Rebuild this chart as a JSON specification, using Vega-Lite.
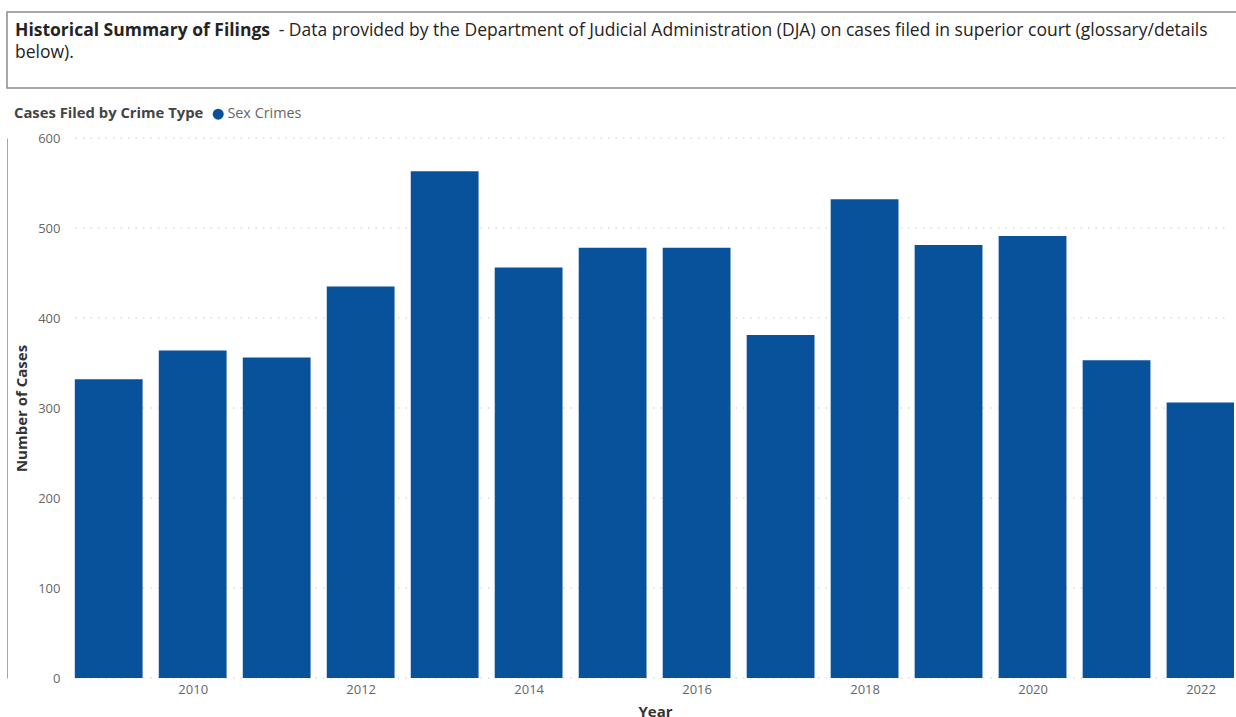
{
  "$schema": "https://vega.github.io/schema/vega-lite/v6.json",
  "background": "white",
  "padding": {"left": 6, "top": 11, "right": 0, "bottom": 0},
  "columns": 1,
  "align": "none",
  "spacing": 13,
  "resolve": {"legend": {"color": "independent"}, "scale": {"color": "independent"}},
  "config": {"font": "Open Sans", "view": {"stroke": null}},
  "concat": [
    {
      "width": 1230,
      "height": 76,
      "view": {"stroke": "#8C8C8C", "strokeWidth": 1.5},
      "data": {"values": []},
      "mark": {"type": "rule"},
      "encoding": {},
      "title": {
        "text": "Historical Summary of Filings",
        "subtitle": [
          "\u200d\u00a0\u00a0\u00a0\u00a0\u00a0\u00a0\u00a0\u00a0\u00a0\u00a0\u00a0\u00a0\u00a0\u00a0\u00a0\u00a0\u00a0\u00a0\u00a0\u00a0\u00a0\u00a0\u00a0\u00a0\u00a0\u00a0\u00a0\u00a0\u00a0\u00a0\u00a0\u00a0\u00a0\u00a0\u00a0\u00a0\u00a0\u00a0\u00a0\u00a0\u00a0\u00a0\u00a0\u00a0\u00a0\u00a0\u00a0\u00a0\u00a0\u00a0\u00a0\u00a0\u00a0\u00a0\u00a0\u00a0\u00a0\u00a0- Data provided by the Department of Judicial Administration (DJA) on cases filed in superior court (glossary/details",
          "below)."
        ],
        "orient": "top",
        "anchor": "start",
        "frame": "group",
        "offset": -49,
        "dx": 8,
        "font": "Open Sans",
        "fontSize": 17.5,
        "fontWeight": "bold",
        "color": "#252423",
        "subtitleFont": "Open Sans",
        "subtitleFontSize": 17.5,
        "subtitleFontWeight": "normal",
        "subtitleColor": "#252423",
        "subtitleLineHeight": 22,
        "subtitlePadding": -17.5
      }
    },
    {
      "width": 1227,
      "height": 540,
      "layer": [
        {
          "data": {
            "values": [
              {"cases": 0}, {"cases": 100}, {"cases": 200}, {"cases": 300},
              {"cases": 400}, {"cases": 500}, {"cases": 600}
            ]
          },
          "mark": {"type": "rule", "color": "#C8C8C8", "strokeWidth": 1, "strokeDash": [1.5, 6]},
          "encoding": {
            "y": {"field": "cases", "type": "quantitative"},
            "x": {"datum": 2008.604, "type": "quantitative"},
            "x2": {"datum": 2022.34}
          }
        },
        {
          "data": {
            "values": [
              {"year": 2009, "cases": 332, "type": "Sex Crimes"},
              {"year": 2010, "cases": 364, "type": "Sex Crimes"},
              {"year": 2011, "cases": 356, "type": "Sex Crimes"},
              {"year": 2012, "cases": 435, "type": "Sex Crimes"},
              {"year": 2013, "cases": 563, "type": "Sex Crimes"},
              {"year": 2014, "cases": 456, "type": "Sex Crimes"},
              {"year": 2015, "cases": 478, "type": "Sex Crimes"},
              {"year": 2016, "cases": 478, "type": "Sex Crimes"},
              {"year": 2017, "cases": 381, "type": "Sex Crimes"},
              {"year": 2018, "cases": 532, "type": "Sex Crimes"},
              {"year": 2019, "cases": 481, "type": "Sex Crimes"},
              {"year": 2020, "cases": 491, "type": "Sex Crimes"},
              {"year": 2021, "cases": 353, "type": "Sex Crimes"},
              {"year": 2022, "cases": 306, "type": "Sex Crimes"}
            ]
          },
          "mark": {"type": "bar", "width": 67.8, "clip": true},
          "encoding": {
            "x": {"field": "year", "type": "quantitative"},
            "y": {"field": "cases", "type": "quantitative"},
            "color": {
              "field": "type",
              "type": "nominal",
              "scale": {"domain": ["Sex Crimes"], "range": ["#08529C"]},
              "legend": {
                "orient": "none",
                "legendX": 2,
                "legendY": -36,
                "direction": "horizontal",
                "title": "Cases Filed by Crime Type",
                "titleOrient": "left",
                "titleLimit": 400,
                "titleFontWeight": "bold",
                "titleFontSize": 14.8,
                "titleColor": "#444444",
                "titlePadding": 7,
                "labelFontSize": 14.4,
                "labelColor": "#666666",
                "labelOffset": 2,
                "symbolType": "circle",
                "symbolSize": 121,
                "symbolStrokeWidth": 0,
                "padding": 5
              }
            }
          }
        }
      ],
      "encoding": {
        "x": {
          "type": "quantitative",
          "scale": {"domain": [2007.8486, 2022.339], "nice": false, "zero": false},
          "axis": {
            "values": [2010, 2012, 2014, 2016, 2018, 2020, 2022],
            "format": "d",
            "grid": false,
            "ticks": false,
            "domain": false,
            "labelColor": "#666666",
            "labelFontSize": 13,
            "labelPadding": 5,
            "labelFlush": false,
            "title": "Year",
            "titleX": 648,
            "titleFontWeight": "bold",
            "titleFontSize": 15,
            "titleColor": "#333333",
            "titlePadding": 8
          }
        },
        "y": {
          "type": "quantitative",
          "scale": {"domain": [0, 600], "nice": false},
          "axis": {
            "values": [0, 100, 200, 300, 400, 500, 600],
            "grid": false,
            "ticks": false,
            "domain": true,
            "domainColor": "#A6A6A6",
            "domainWidth": 1,
            "minExtent": 0,
            "labelPadding": -53,
            "labelColor": "#666666",
            "labelFontSize": 13,
            "title": "Number of Cases",
            "titleX": 22,
            "titleFontWeight": "bold",
            "titleFontSize": 15,
            "titleColor": "#333333"
          }
        }
      }
    }
  ]
}
